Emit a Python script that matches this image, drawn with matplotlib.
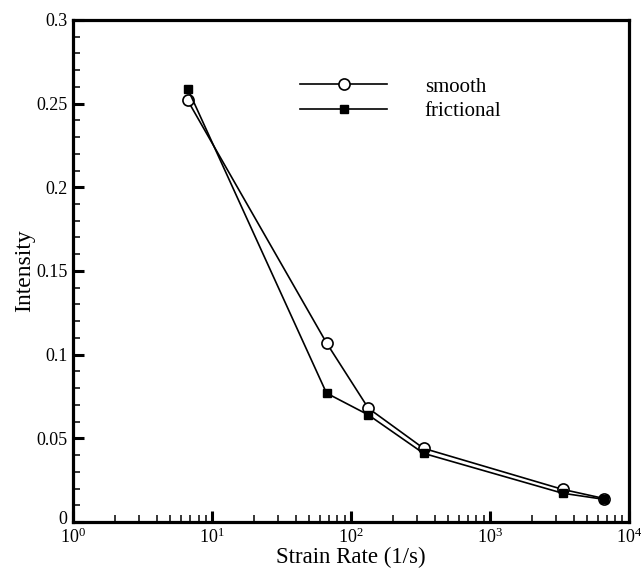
import numpy as np
import matplotlib.pyplot as plt
import matplotlib.transforms as mtransforms
from matplotlib.ticker import FixedLocator, FuncFormatter, LogLocator, NullFormatter

plt.rcParams['font.family'] = ['Liberation Serif', 'DejaVu Serif']
plt.rcParams['mathtext.fontset'] = 'stix'

# data
strain_rate = [6.67, 66.7, 133.3, 333.3, 3333.0, 6667.0]
smooth = [0.252, 0.107, 0.068, 0.044, 0.0195, 0.014]
frictional = [0.259, 0.077, 0.064, 0.041, 0.0172, 0.0135]

y_ticks = [0, 0.05, 0.1, 0.15, 0.2, 0.25, 0.3]

fig = plt.figure(figsize=(6.41, 5.68), dpi=100)
ax = fig.add_axes([0.114, 0.081, 0.867, 0.884])

ax.plot(strain_rate, smooth, color='black', lw=1.2, marker='o', ms=8,
        mfc='white', mec='black', mew=1.2, label='smooth')
ax.plot(strain_rate, frictional, color='black', lw=1.2, marker='s', ms=6,
        mfc='black', mec='black', label='frictional')

ax.set_xscale('log')
ax.set_xlim(1, 1e4)
ax.set_ylim(0, 0.3)

ax.xaxis.set_major_locator(LogLocator(base=10, numticks=10))
ax.xaxis.set_minor_locator(LogLocator(base=10, subs=np.arange(2, 10), numticks=10))
ax.xaxis.set_minor_formatter(NullFormatter())

ax.yaxis.set_major_locator(FixedLocator(y_ticks))
ax.yaxis.set_minor_locator(FixedLocator(np.arange(0, 0.301, 0.01)))
ax.yaxis.set_major_formatter(FuncFormatter(lambda v, p: '%g' % round(v, 3)))

for side in ['top', 'right', 'left', 'bottom']:
    ax.spines[side].set_linewidth(2.3)

ax.tick_params(which='major', direction='in', length=8, width=2.2,
               labelsize=13, top=False, right=False, pad=4)
ax.tick_params(which='minor', direction='in', length=5, width=1.1,
               top=False, right=False)

# lift the "0" label a touch so it clears the 10^0 label below it
zero_lbl = ax.get_yticklabels()[0]
zero_lbl.set_transform(zero_lbl.get_transform() +
                       mtransforms.ScaledTranslation(0, 3 / 72, fig.dpi_scale_trans))

ax.set_xlabel('Strain Rate (1/s)', fontsize=16.5, labelpad=0)
ax.set_ylabel('Intensity', fontsize=17, labelpad=1)

ax.legend(loc='upper left', bbox_to_anchor=(0.408, 0.886), frameon=False,
          fontsize=15, handlelength=4.2, handletextpad=1.8, labelspacing=0.22,
          borderpad=0, borderaxespad=0)

fig.savefig('out.png', dpi=100)
